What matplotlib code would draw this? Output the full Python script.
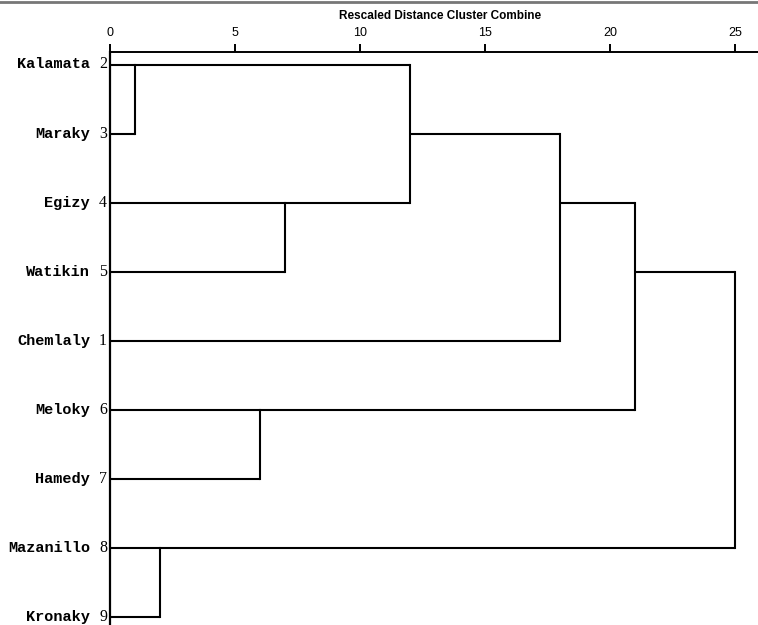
import math
import matplotlib
matplotlib.use("Agg")
import matplotlib.pyplot as plt
from matplotlib.transforms import blended_transform_factory
from matplotlib.lines import Line2D

# ---- data ----
labels = ["Kalamata", "Maraky", "Egizy", "Watikin", "Chemlaly",
          "Meloky", "Hamedy", "Mazanillo", "Kronaky"]
case_ids = [2, 3, 4, 5, 1, 6, 7, 8, 9]
# merges: (child a, child b, rescaled distance); leaves 0..8, new nodes 9..
merge_a = [0, 7, 5, 2, 9, 13, 14, 15]
merge_b = [1, 8, 6, 3, 12, 4, 11, 10]
merge_h = [1, 2, 6, 7, 12, 18, 21, 25]
xticks = [0, 5, 10, 15, 20, 25]
title = "Rescaled Distance Cluster Combine"

W, H = 758, 625
fig = plt.figure(figsize=(W / 100, H / 100), dpi=100)
left_px, top_px = 110, 52
ax = fig.add_axes([left_px / W, 0, 1 - left_px / W, 1 - top_px / H])

px_per_unit = 25.0
ax.set_xlim(0, (W - left_px) / px_per_unit)
row0, row_sp = 64.5, 69.06
ax.set_ylim((H - row0) / row_sp, -(row0 - top_px) / row_sp)

lw = 1.5
rows = {i: i for i in range(len(labels))}
hts = {i: 0 for i in range(len(labels))}
node = len(labels)
for a, b, h in zip(merge_a, merge_b, merge_h):
    for c in (a, b):
        ax.plot([hts[c], h], [rows[c], rows[c]], color="black", lw=lw,
                solid_capstyle="butt")
    ax.plot([h, h], [rows[a], rows[b]], color="black", lw=lw,
            solid_capstyle="projecting")
    rows[node] = math.floor((rows[a] + rows[b]) / 2)
    hts[node] = h
    node += 1

for s in ["right", "bottom"]:
    ax.spines[s].set_visible(False)
ax.spines["left"].set_linewidth(1.6)
ax.spines["top"].set_linewidth(1.4)
ax.xaxis.tick_top()
ax.set_xticks(xticks)
ax.set_xticklabels([str(t) for t in xticks], family="Liberation Sans",
                   fontsize=9)
ax.tick_params(axis="x", direction="out", length=6, width=1.4, pad=3.5)
ax.set_yticks([])

tr = blended_transform_factory(fig.transFigure, ax.transData)
for i, (name, cid) in enumerate(zip(labels, case_ids)):
    fig.text(90 / W, i, name, transform=tr, ha="right", va="center",
             family="Liberation Mono", fontweight="bold", fontsize=11)
    fig.text(107 / W, i, str(cid), transform=tr, ha="right", va="center",
             family="Liberation Serif", fontsize=11.5)

fig.text(440 / W, 1 - 16 / H, title, ha="center", va="center",
         family="Liberation Sans", fontweight="bold", fontsize=8.5)

# top scan border
fig.add_artist(Line2D([0, 1], [1 - 1.5 / H, 1 - 1.5 / H],
                      transform=fig.transFigure, color="#777777", lw=2))

fig.savefig("out.png", dpi=100)
